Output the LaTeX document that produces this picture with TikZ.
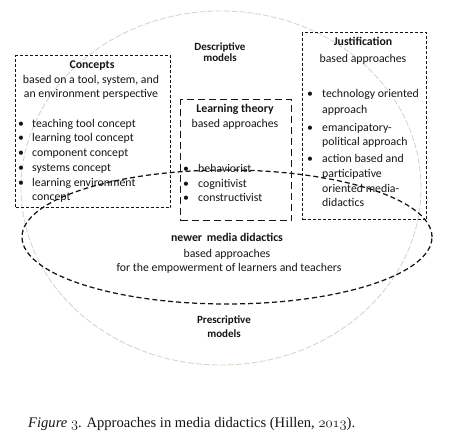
\documentclass[tikz,border=0pt]{standalone}
\usepackage{fontspec}
\setmainfont{Carlito}
\newfontfamily\capfont{Liberation Serif}
\newcommand{\osn}[1]{{\usefont{OML}{cmm}{m}{it}#1}}
\usetikzlibrary{shapes.geometric}
\definecolor{beige}{HTML}{D6D2BE}
\definecolor{ink}{HTML}{151515}
\tikzset{
  txt/.style={font=\fontsize{11.8}{14}\selectfont, text=ink, inner sep=0pt},
  btxt/.style={font=\fontsize{11.8}{14}\selectfont\bfseries, text=ink, inner sep=0pt},
  mtxt/.style={font=\fontsize{11}{13}\selectfont\bfseries, text=ink, inner sep=0pt, align=center},
  shortbox/.style={draw=ink, line width=1.15pt, dash pattern=on 3pt off 2pt, inner sep=0pt, anchor=north west},
  longbox/.style={draw=ink, line width=1.15pt, dash pattern=on 7pt off 4pt, inner sep=0pt, anchor=north west},
  outerell/.style={draw=beige, line width=0.8pt, dash pattern=on 6pt off 2pt, ellipse, inner sep=0pt},
  innerell/.style={draw=ink, line width=1.25pt, dash pattern=on 5pt off 3pt, ellipse, inner sep=0pt},
}
\begin{document}
\begin{tikzpicture}[x=1pt,y=-1pt]
\useasboundingbox (0,0) rectangle (454,441);
% outer faint ellipse
\node[outerell, minimum width=400pt, minimum height=354pt] (outer) at (221,188) {};
% boxes
\node[shortbox, minimum width=155pt, minimum height=152pt] (cbox) at (15,55) {};
\node[longbox, minimum width=111pt, minimum height=121pt] (lbox) at (180,99) {};
\node[shortbox, minimum width=124pt, minimum height=187pt] (jbox) at (302,32) {};
% descriptive models
\node[mtxt, anchor=base] (desc) at (220,51) {Descriptive};
\node[mtxt, anchor=base] (descm) at (220,62) {models};
% concepts
\node[btxt, anchor=base] (c0) at (92,69) {Concepts};
\node[txt, anchor=base] (c1) at (91,84) {based on a tool, system, and};
\node[txt, anchor=base] (c2) at (91,98) {an environment perspective};
\foreach \t [count=\i] in {teaching tool concept, learning tool concept, component concept, systems concept, learning environment}{
  \node[txt, anchor=base west] (cb\i) at (18,{112.5+\i*14.7}) {•};
  \node[txt, anchor=base west] (ct\i) at (32,{112.5+\i*14.7}) {\t};
}
\node[txt, anchor=base west] (ct6) at (32,200.7) {concept};
% learning theory
\node[btxt, anchor=base] (l0) at (235,112) {Learning theory};
\node[txt, anchor=base] (l1) at (235,127) {based approaches};
\node[txt, anchor=base west] (lb1) at (183,172) {•};
\node[txt, anchor=base west] (lt1) at (198,172) {behaviorist};
\node[txt, anchor=base west] (lb2) at (183,187) {•};
\node[txt, anchor=base west] (lt2) at (198,187) {cognitivist};
\node[txt, anchor=base west] (lb3) at (183,201) {•};
\node[txt, anchor=base west] (lt3) at (198,201) {constructivist};
% justification
\node[btxt, anchor=base] (j0) at (363,46) {Justification};
\node[txt, anchor=base] (j1) at (363,63) {based approaches};
\node[txt, anchor=base west] (jb1) at (307,98) {•};
\node[txt, anchor=base west] (jt1) at (322,98) {technology oriented};
\node[txt, anchor=base west] (jt2) at (322,113) {approach};
\node[txt, anchor=base west] (jb2) at (307,131) {•};
\node[txt, anchor=base west] (jt3) at (322,131) {emancipatory-};
\node[txt, anchor=base west] (jt4) at (322,145) {political approach};
\node[txt, anchor=base west] (jb3) at (307,162) {•};
\node[txt, anchor=base west] (jt5) at (322,162) {action based and};
\node[txt, anchor=base west] (jt6) at (322,177) {participative};
\node[txt, anchor=base west] (jt7) at (322,192) {oriented media-};
\node[txt, anchor=base west] (jt8) at (322,206) {didactics};
% newer media didactics
\node[btxt, anchor=base] (n0) at (227,241) {newer\, media didactics};
\node[txt, anchor=base] (n1) at (227,257) {based approaches};
\node[txt, anchor=base] (n2) at (229,271) {for the empowerment of learners and teachers};
% inner dashed ellipse
\node[innerell, minimum width=410pt, minimum height=134pt] (inner) at (227,237) {};
% prescriptive models
\node[mtxt, anchor=base] (pres) at (224,323) {Prescriptive};
\node[mtxt, anchor=base] (presm) at (224,337) {models};
% caption
\node[anchor=base west, inner sep=0pt, font=\capfont\fontsize{14.6}{17}\selectfont, text=ink] (cap) at (28,427) {\textit{Figure \osn{3}}. Approaches in media didactics (Hillen, \osn{2013}).};
\end{tikzpicture}
\end{document}
